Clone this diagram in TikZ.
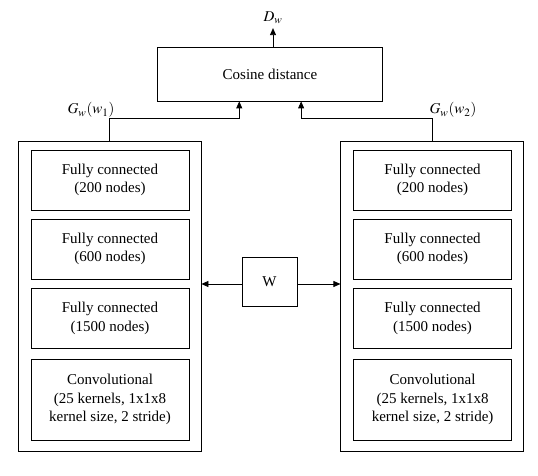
\documentclass[tikz,border=0pt]{standalone}
\usepackage{mathptmx}
\usepackage{fontspec}
\setmainfont{Liberation Serif}
\usetikzlibrary{arrows.meta,positioning,calc}

\begin{document}
\begin{tikzpicture}[
    x=0.8pt, y=-0.8pt,
    >={Triangle[length=5.6pt,width=4.8pt]},
    line width=0.6pt,
    layer/.style={draw, minimum width=126.4pt, minimum height=48pt,
                  align=center, font=\fontsize{12}{15}\selectfont},
    branch/.style={draw, minimum width=146.4pt, minimum height=248pt},
    lbl/.style={font=\fontsize{12}{14}\selectfont}
]
    \useasboundingbox (0,0) rectangle (538,475);

    \node[draw, minimum width=179.6pt, minimum height=43.2pt, lbl] (C) at (270,74)
        {Cosine distance};
    \node[lbl] (D) at (273,18) {$D_w$};

    % two branches
    \node[branch] (L) at (109.5,296) {};
    \node[branch] (R) at (432.3,296) {};
    \foreach \s/\x in {l/110,r/432.6} {
        \node[layer] (\s1) at (\x,180)   {Fully connected\\(200 nodes)};
        \node[layer] (\s2) at (\x,249)   {Fully connected\\(600 nodes)};
        \node[layer] (\s3) at (\x,318.5) {Fully connected\\(1500 nodes)};
        \node[layer, minimum height=64.8pt] (\s4) at (\x,399.5)
            {Convolutional\\(25 kernels, 1x1x8\\kernel size, 2 stride)};
    }

    % shared weights
    \node[draw, minimum width=44pt, minimum height=39.2pt, lbl] (W) at (269.5,282) {W};
    \draw[->] (W.west |- 0,284) -- (L.east |- 0,284);
    \draw[->] (W.east |- 0,284) -- (R.west |- 0,284);

    \draw[->] (L.north) -- ++(0,-22.5) -| ([xshift=-24.6pt]C.south);
    \draw[->] (R.north) -- ++(0,-22.5) -| ([xshift=24.9pt]C.south);
    \draw[->] ([xshift=2.4pt]C.north) -- ++(0,-18.5);

    \node[lbl] (G1) at (91,110) {$G_w(w_1)$};
    \node[lbl] (G2) at (453,110) {$G_w(w_2)$};
\end{tikzpicture}
\end{document}
